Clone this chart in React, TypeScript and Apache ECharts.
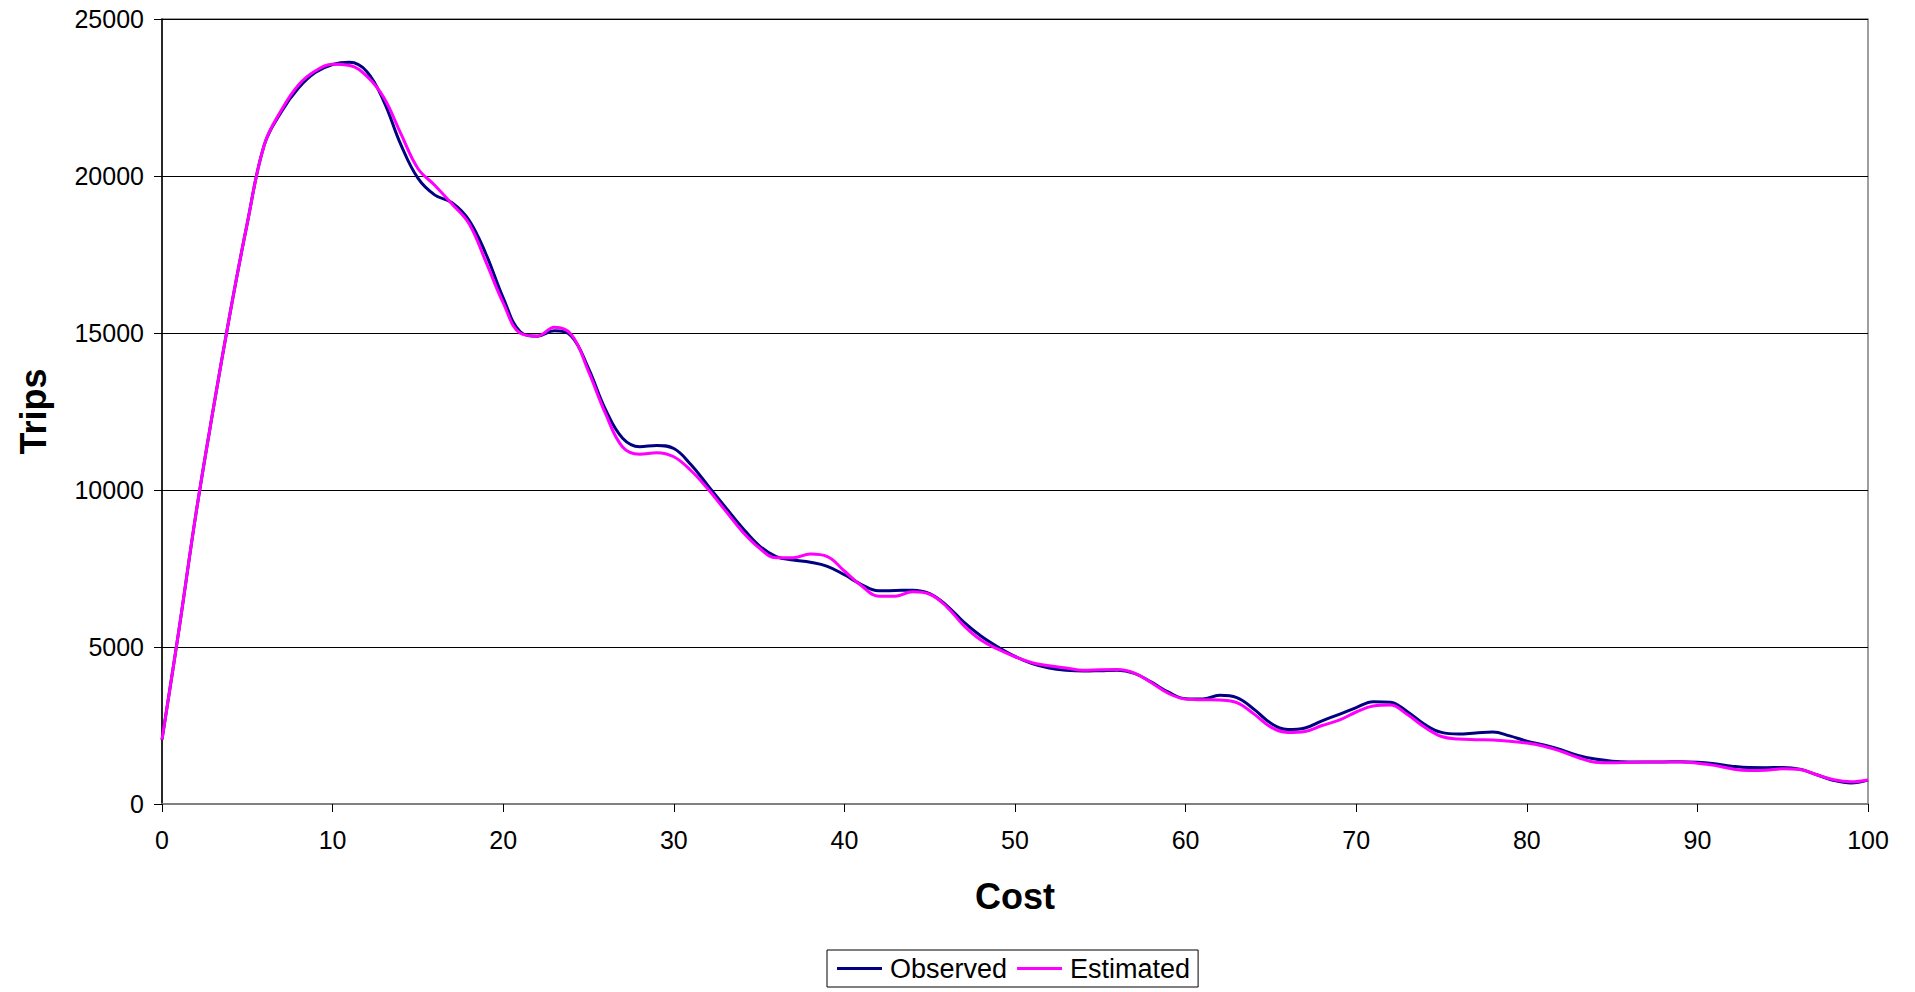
import React, { useEffect, useRef } from "react";
import * as echarts from "echarts";

const costs = [
  0, 1, 2, 3, 4, 5, 6, 7, 8, 9, 10, 11, 12, 13, 14, 15, 16, 17, 18, 19, 20,
  21, 22, 23, 24, 25, 26, 27, 28, 29, 30, 31, 32, 33, 34, 35, 36, 37, 38, 39, 40,
  41, 42, 43, 44, 45, 46, 47, 48, 49, 50, 51, 52, 53, 54, 55, 56, 57, 58, 59, 60,
  61, 62, 63, 64, 65, 66, 67, 68, 69, 70, 71, 72, 73, 74, 75, 76, 77, 78, 79, 80,
  81, 82, 83, 84, 85, 86, 87, 88, 89, 90, 91, 92, 93, 94, 95, 96, 97, 98, 99, 100,
];

const observed = [
  2050, 5570, 9280, 12560, 15660, 18500, 21000, 22050, 22800, 23300, 23550,
  23620, 23330, 22380, 21000, 19930, 19390, 19150, 18590, 17500, 16120,
  15040, 14900, 15070, 14900, 13870, 12560, 11650, 11380, 11420, 11320,
  10810, 10140, 9470, 8810, 8230, 7880, 7770, 7700, 7570, 7300,
  6990, 6790, 6800, 6810, 6700, 6320, 5790, 5350, 5000, 4700,
  4470, 4330, 4260, 4235, 4245, 4260, 4160, 3880, 3560, 3350,
  3340, 3460, 3390, 3020, 2570, 2370, 2420, 2650, 2855, 3070,
  3260, 3240, 2940, 2540, 2280, 2230, 2260, 2290, 2170, 2000,
  1880, 1730, 1550, 1430, 1365, 1340, 1338, 1340, 1345, 1330,
  1280, 1205, 1160, 1157, 1165, 1110, 930, 750, 670, 760,
];

const estimated = [
  2050, 5570, 9280, 12560, 15660, 18500, 21000, 22100, 22900, 23350, 23560,
  23520, 23180, 22500, 21350, 20240, 19700, 19110, 18480, 17250, 15960,
  14990, 14900, 15180, 14950, 13780, 12430, 11370, 11140, 11190, 11060,
  10620, 10030, 9360, 8690, 8160, 7840, 7840, 7960, 7880, 7420,
  6950, 6620, 6620, 6760, 6680, 6280, 5680, 5220, 4930, 4690,
  4500, 4405, 4330, 4260, 4275, 4280, 4170, 3860, 3520, 3340,
  3320, 3310, 3230, 2870, 2450, 2280, 2310, 2500, 2670, 2930,
  3120, 3150, 2850, 2450, 2150, 2070, 2050, 2040, 2000, 1940,
  1840, 1680, 1480, 1330, 1310, 1325, 1335, 1338, 1338, 1300,
  1230, 1120, 1065, 1075, 1120, 1100, 930, 770, 705, 764,
];

const seriesNames = ["Observed", "Estimated"];
const seriesColors = ["#000080", "#FF00FF"];

export default function App() {
  const ref = useRef<HTMLDivElement>(null);

  useEffect(() => {
    if (!ref.current) return;
    const chart = echarts.init(ref.current, undefined, { renderer: "svg" });
    const font = "'Liberation Sans', Arial, Helvetica, sans-serif";
    const toPairs = (vals: number[]) => costs.map((c, i) => [c, vals[i]]);
    chart.setOption({
      animation: false,
      backgroundColor: "#ffffff",
      textStyle: { fontFamily: font },
      grid: {
        left: 162,
        right: 47,
        top: 19,
        bottom: 188,
        show: true,
        borderColor: "#808080",
        borderWidth: 1.5,
        backgroundColor: "transparent",
      },
      legend: {
        data: seriesNames,
        left: 827,
        top: 950,
        icon: "rect",
        itemWidth: 45,
        itemHeight: 3,
        itemGap: 10,
        padding: [5, 8, 5, 10],
        borderColor: "#000000",
        borderWidth: 1,
        backgroundColor: "#ffffff",
        textStyle: { fontSize: 27, color: "#000", fontFamily: font, padding: [0, 0, 0, 3] },
      },
      xAxis: {
        type: "value",
        min: 0,
        max: 100,
        interval: 10,
        name: "Cost",
        nameLocation: "middle",
        nameGap: 74,
        nameTextStyle: { fontSize: 36, fontWeight: "bold", color: "#000", fontFamily: font },
        axisLine: { show: true, lineStyle: { color: "#808080", width: 2 } },
        axisTick: { show: true, inside: false, length: 8, lineStyle: { color: "#000", width: 1 } },
        axisLabel: { fontSize: 25, color: "#000", margin: 23, fontFamily: font },
        splitLine: { show: false },
      },
      yAxis: {
        type: "value",
        min: 0,
        max: 25000,
        interval: 5000,
        name: "Trips",
        nameLocation: "middle",
        nameGap: 111,
        nameRotate: 90,
        nameTextStyle: { fontSize: 36, fontWeight: "bold", color: "#000", fontFamily: font },
        axisLine: { show: true, lineStyle: { color: "#000", width: 1.5 } },
        axisTick: { show: true, inside: false, length: 8, lineStyle: { color: "#000", width: 1 } },
        axisLabel: {
          fontSize: 25,
          color: "#000",
          margin: 18,
          fontFamily: font,
          formatter: (v: number) => String(v),
        },
        splitLine: { show: true, lineStyle: { color: "#000", width: 1 } },
      },
      series: [
        {
          name: seriesNames[0],
          type: "line",
          data: toPairs(observed),
          smooth: 0.4,
          showSymbol: false,
          symbol: "none",
          lineStyle: { color: seriesColors[0], width: 3 },
          itemStyle: { color: seriesColors[0] },
        },
        {
          name: seriesNames[1],
          type: "line",
          data: toPairs(estimated),
          smooth: 0.4,
          showSymbol: false,
          symbol: "none",
          lineStyle: { color: seriesColors[1], width: 3 },
          itemStyle: { color: seriesColors[1] },
        },
      ],
    });
    return () => chart.dispose();
  }, []);

  return (
    <div
      ref={ref}
      style={{ position: "absolute", left: 0, top: 0, width: 1915, height: 992 }}
    />
  );
}
